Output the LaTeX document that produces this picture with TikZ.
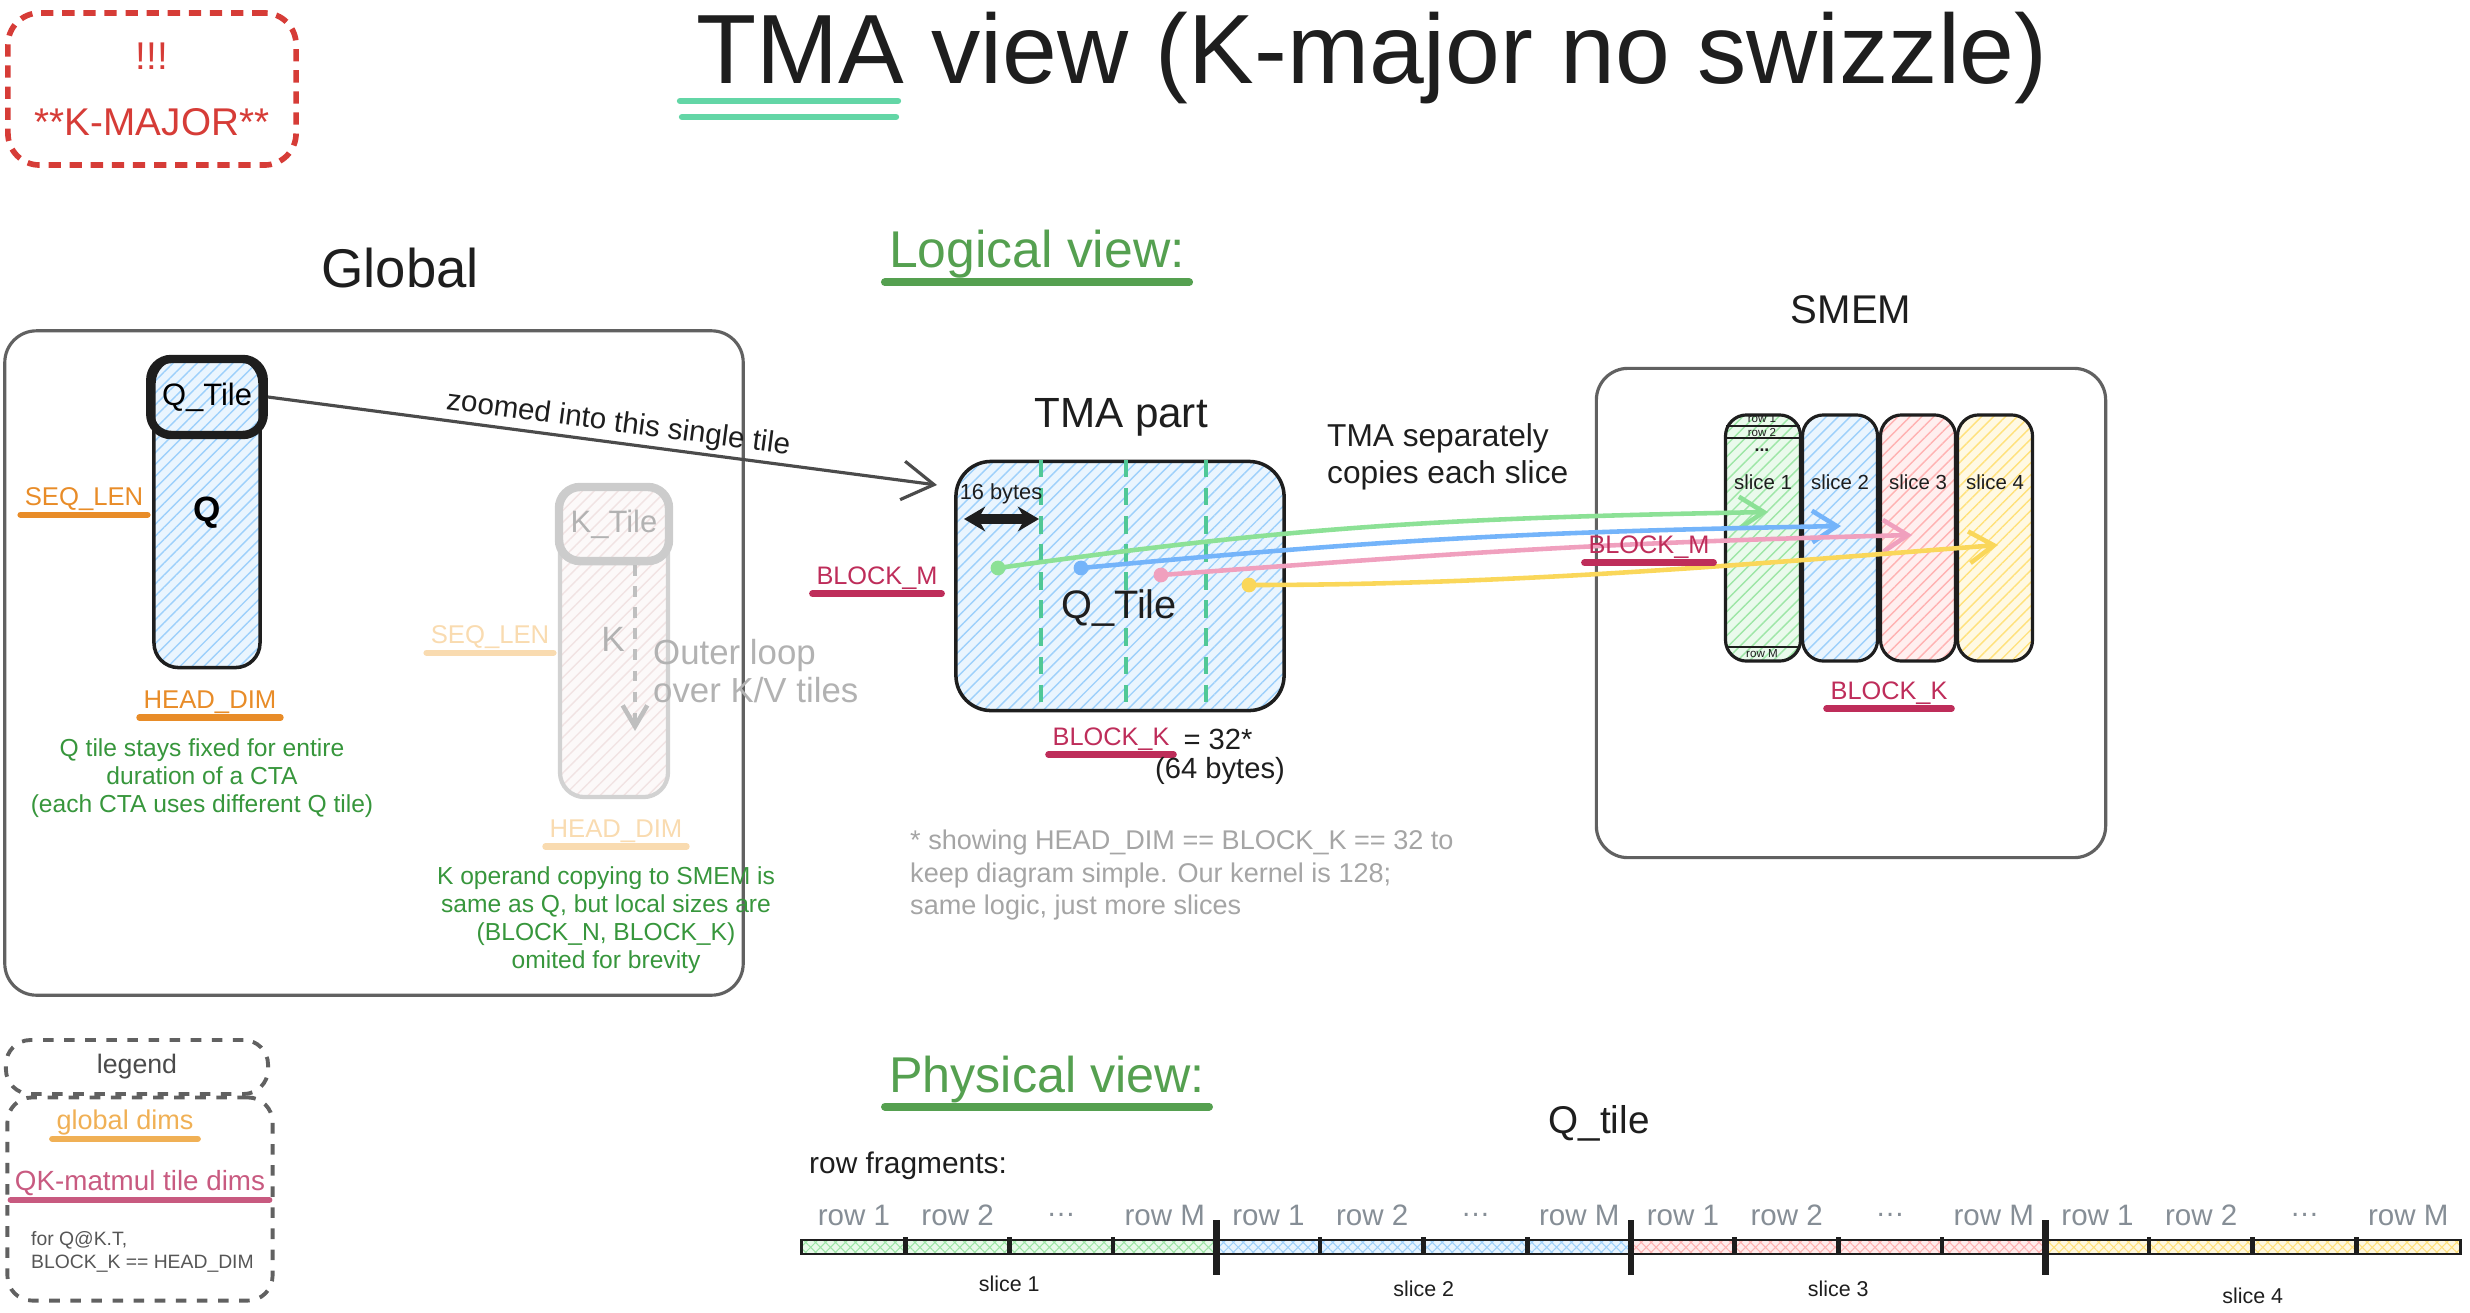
\documentclass[tikz,border=0pt]{standalone}
\usepackage{fontspec}
\setmainfont{Liberation Sans}
\usetikzlibrary{arrows.meta,patterns.meta,calc}
\newcommand{\fsz}[2]{\fontsize{#1}{#2}\selectfont}

\definecolor{ink}{RGB}{30,30,30}
\definecolor{cTeal}{RGB}{99,214,166}
\definecolor{cRed}{RGB}{214,60,55}
\definecolor{cOrange}{RGB}{232,140,40}
\definecolor{cOrangeFade}{RGB}{249,219,176}
\definecolor{cCrim}{RGB}{190,45,90}
\definecolor{cPinkTxt}{RGB}{200,90,128}
\definecolor{cLegOrange}{RGB}{240,176,85}
\definecolor{cGreenTxt}{RGB}{55,150,60}
\definecolor{cHead}{RGB}{85,160,80}
\definecolor{cFoot}{RGB}{165,165,165}
\definecolor{cRow}{RGB}{134,142,150}
\definecolor{cDash}{RGB}{80,200,150}
\definecolor{hBlue}{RGB}{140,200,250}
\definecolor{hGreen}{RGB}{140,225,150}
\definecolor{hPink}{RGB}{255,165,165}
\definecolor{hYellow}{RGB}{255,220,100}
\definecolor{hFade}{RGB}{238,222,222}
\definecolor{aGreen}{RGB}{140,225,150}
\definecolor{aBlue}{RGB}{116,180,250}
\definecolor{aPink}{RGB}{240,160,190}
\definecolor{aYellow}{RGB}{250,215,90}

\tikzset{
  >=Stealth,
  txt/.style={inner sep=1pt, text=ink},
  globdim/.style={txt, text=cOrange, font=\fsz{7.3}{8}},
  tiledim/.style={txt, text=cCrim, font=\fsz{7.2}{8}},
  note/.style={txt, text=cGreenTxt, font=\fsz{7}{7.9}, align=center},
  uline/.style={line width=1.8pt, line cap=round},
  panel/.style={draw=ink!70, line width=0.9pt, rounded corners=9pt},
  hatch/.style={preaction={fill=#1!18}, pattern={Lines[angle=45,distance=2.4pt,line width=0.4pt]}, pattern color=#1!85},
  xhatch/.style={preaction={fill=#1!20}, pattern={Hatch[angle=45,distance=2pt,line width=0.3pt]}, pattern color=#1!85},
  legendbox/.style={draw=ink!70, dashed, line width=1.1pt, rounded corners=7pt, text=ink!80},
  copyarr/.style={#1, line width=1.3pt, -{Straight Barb[length=7pt,width=9pt]}}
}

\begin{document}
\begin{tikzpicture}[x=0.01cm,y=-0.01cm]
  \useasboundingbox (0,0) rectangle (2470,1312);

  % Title
  \node[txt, font=\fsz{28}{30}] at (1372,58) (title) {TMA view (K-major no swizzle)};
  \draw[uline, cTeal] (680,101) -- (898,101);
  \draw[uline, cTeal] (682,117) -- (896,117);

  \node[draw=cRed, line width=1.6pt, dash pattern=on 3.5pt off 2.5pt, rounded corners=9pt,
        minimum width=2.88cm, minimum height=1.52cm, text=cRed, align=center,
        font=\fsz{11}{18.8}] at (152,89) (kmajor) {!!!\\**K-MAJOR**};

  % Global
  \node[txt, font=\fsz{15.5}{17}] at (400,268) (globlbl) {Global};
  \node[panel, minimum width=7.38cm, minimum height=6.64cm] at (374,663) (globbox) {};

  \node[draw=ink, line width=1pt, rounded corners=7pt, hatch=hBlue, minimum width=1.06cm,
        minimum height=3.09cm, font=\fsz{10}{11}\bfseries] at (207,513) (qcol) {Q};
  \node[draw=ink, line width=2.4pt, rounded corners=6pt, minimum width=1.06cm,
        minimum height=0.76cm, font=\fsz{8.8}{10}] at (207,397) (qtile) {Q\_Tile};
  \node[globdim] at (84,499) (qseq) {SEQ\_LEN};
  \draw[uline, cOrange] (qseq.south west) -- (qseq.south east);
  \node[globdim] at (210,702) (qhead) {HEAD\_DIM};
  \draw[uline, cOrange] (qhead.south west) -- (qhead.south east);
  \node[note] at (202,778) (qnote) {Q tile stays fixed for entire\\duration of a CTA\\(each CTA uses different Q tile)};

  \node[draw=gray!35, line width=1.2pt, rounded corners=7pt, hatch=hFade, minimum width=1.08cm,
        minimum height=3.1cm] at (614,642) (kcol) {};
  \node[draw=gray!40, line width=2.4pt, rounded corners=6pt, minimum width=1.08cm,
        minimum height=0.74cm, text=gray!60, font=\fsz{8.8}{10}] at (614,524) (ktile) {K\_Tile};
  \node[txt, text=gray!60, font=\fsz{10}{11}] at (613,639) (klbl) {K};
  \coordinate (kfrom) at (635,565);
  \coordinate (kto) at (635,731);
  \draw[gray!50, line width=1.3pt, dashed, -{Straight Barb[length=6pt,width=7pt]}] (kfrom) -- (kto);
  \node[txt, text=gray!60, font=\fsz{9.9}{10.8}, align=left, anchor=west] at (649,671) (outer) {Outer loop\\over K/V tiles};
  \node[globdim, text=cOrangeFade] at (490,637) (kseq) {SEQ\_LEN};
  \draw[uline, cOrangeFade] (kseq.south west) -- (kseq.south east);
  \node[globdim, text=cOrangeFade] at (616,831) (khead) {HEAD\_DIM};
  \draw[uline, cOrangeFade] (khead.south west) -- (khead.south east);
  \node[note] at (606,920) (knote) {K operand copying to SMEM is\\same as Q, but local sizes are\\(BLOCK\_N, BLOCK\_K)\\omited for brevity};

  % Zoom arrow
  \coordinate (zoomend) at (937,485);
  \draw[ink!80, line width=0.9pt, -{Straight Barb[length=9pt,width=11pt]}] (qtile.east)
    -- node[txt, pos=0.52, sloped, above, font=\fsz{8.4}{9}] (zoomlbl) {zoomed into this single tile} (zoomend);

  % Logical view
  \node[txt, text=cHead, font=\fsz{14.7}{16}] at (1037,254) (logview) {Logical view:};
  \draw[uline, cHead, line width=2.2pt] (logview.south west) -- (logview.south east);

  \node[txt, font=\fsz{12}{13}] at (1121,417) (tmalbl) {TMA part};
  \node[draw=ink, line width=1pt, rounded corners=10pt, hatch=hBlue, minimum width=3.28cm,
        minimum height=2.49cm] at (1120,586) (tma) {};
  \foreach \dx in {-79,6,86}
    \draw[cDash, line width=1pt, dash pattern=on 5pt off 3pt] ($(tma.north)+(\dx,0)$) -- ($(tma.south)+(\dx,0)$);
  \node[txt, font=\fsz{11.3}{12}] at (1119,608) (tmaq) {Q\_Tile};
  \node[txt, font=\fsz{6.2}{7}] at (1001,494) (bytes16) {16 bytes};
  \coordinate (wl) at (964,519);
  \coordinate (wr) at (1039,519);
  \draw[ink, line width=2.6pt, {Stealth[length=6pt,width=7pt]}-{Stealth[length=6pt,width=7pt]}] (wl) -- (wr);
  \node[tiledim] at (877,578) (tmabm) {BLOCK\_M};
  \draw[uline, cCrim] (tmabm.south west) -- (tmabm.south east);
  \node[tiledim] at (1111,739) (tmabk) {BLOCK\_K};
  \draw[uline, cCrim] (tmabk.south west) -- (tmabk.south east);
  \node[txt, font=\fsz{8.3}{9}] at (1218,739) (eq32) {= 32*};
  \node[txt, font=\fsz{8.3}{9}] at (1220,771) (bytes64) {(64 bytes)};
  \node[txt, text=cFoot, font=\fsz{7.7}{9.2}, align=left, anchor=west] at (906,875) (foot)
    {* showing HEAD\_DIM == BLOCK\_K == 32 to\\keep diagram simple. Our kernel is 128;\\same logic, just more slices};
  \node[txt, font=\fsz{9}{10.5}, align=left, anchor=west] at (1323,457) (tmasep) {TMA separately\\copies each slice};

  % SMEM
  \node[txt, font=\fsz{11.4}{12}] at (1851,310) (smemlbl) {SMEM};
  \node[panel, minimum width=5.09cm, minimum height=4.89cm] at (1851,613) (smem) {};
  \foreach \i/\px/\c in {1/1763/hGreen,2/1840/hBlue,3/1918/hPink,4/1995/hYellow}{
    \node[draw=ink, line width=0.9pt, rounded corners=6pt, hatch=\c, minimum width=0.75cm,
          minimum height=2.46cm] at (\px,538) (s\i) {};
    \node[txt, font=\fsz{5.8}{6}] at (\px,482) (sl\i) {slice \i};
  }
  \draw[ink, line width=0.8pt] (1726,426) -- (1800,426) (1726,438) -- (1800,438) (1726,647) -- (1800,647);
  \node[txt, inner sep=0pt, font=\fsz{3.3}{4}] at (1762,419) (r1) {row 1};
  \node[txt, inner sep=0pt, font=\fsz{3.3}{4}] at (1762,432) (r2) {row 2};
  \node[txt, inner sep=0pt, font=\fsz{5}{5}\bfseries] at (1762,450) (rdots) {...};
  \node[txt, inner sep=0pt, font=\fsz{3.3}{4}] at (1762,654) (rM) {row M};

  % copies
  \foreach \n/\px/\py/\c in {g/998/568/aGreen, b/1081/568/aBlue, p/1161/575/aPink, y/1249/585/aYellow}{
    \coordinate (d\n) at (\px,\py);
    \fill[\c] (d\n) circle (2.1pt);
  }
  \coordinate (tg) at (1768,512);
  \coordinate (tb) at (1841,526);
  \coordinate (tp) at (1912,535);
  \coordinate (ty) at (1998,545);
  \draw[copyarr=aGreen] (dg) .. controls +(300,-42) and +(-320,6) .. (tg);
  \draw[copyarr=aBlue] (db) .. controls +(300,-28) and +(-320,6) .. (tb);
  \draw[copyarr=aPink] (dp) .. controls +(300,-22) and +(-320,8) .. (tp);
  \draw[copyarr=aYellow] (dy) .. controls +(260,0) and +(-260,20) .. (ty);
  \node[tiledim] at (1649,547) (smbm) {BLOCK\_M};
  \draw[uline, cCrim] (smbm.south west) -- (smbm.south east);
  \node[tiledim] at (1889,693) (smbk) {BLOCK\_K};
  \draw[uline, cCrim] (smbk.south west) -- (smbk.south east);

  % Legend
  \node[legendbox, minimum width=2.62cm, minimum height=0.54cm, font=\fsz{7.6}{8}] at (137,1067) (legend) {legend};
  \node[legendbox, minimum width=2.65cm, minimum height=2.03cm] at (140,1199) (legbody) {};
  \node[txt, text=cLegOrange, font=\fsz{7.7}{8}] at (125,1122) (leggd) {global dims};
  \draw[uline, cLegOrange] (leggd.south west) -- (leggd.south east);
  \node[txt, text=cPinkTxt, font=\fsz{7.9}{8}] at (140,1183) (legtd) {QK-matmul tile dims};
  \draw[uline, cPinkTxt] (legtd.south west) -- (legtd.south east);
  \node[txt, text=ink!75, font=\fsz{5.5}{6.5}, align=left, anchor=west] at (27,1252) (legnote) {for Q@K.T,\\BLOCK\_K == HEAD\_DIM};

  % Physical view
  \node[txt, text=cHead, font=\fsz{14.3}{16}] at (1047,1079) (physview) {Physical view:};
  \draw[uline, cHead, line width=2.2pt] (physview.south west) -- (physview.south east);
  \node[txt, font=\fsz{11}{12}] at (1599,1123) (qtilephys) {Q\_tile};
  \node[txt, font=\fsz{8.5}{9}, anchor=west] at (805,1166) (rowfrag) {row fragments:};
  \foreach \i/\c in {0/hGreen,1/hBlue,2/hPink,3/hYellow}{
    \node[draw=ink, line width=0.8pt, inner sep=0pt, minimum width=4.145cm, minimum height=0.14cm,
          xhatch=\c] at ({1009.25+414.5*\i},1247) (seg\i) {};
    \foreach \j/\t in {0/row 1,1/row 2,2/\dots,3/row M}
      \node[txt, text=cRow, font=\fsz{8.4}{9}] at ({854+414.5*\i+103.6*\j},1215) (row\i-\j) {\t};
    \foreach \j in {1,2,3}
      \draw[ink, line width=1.3pt] ({802+414.5*\i+103.6*\j},1237) -- ++(0,18);
  }
  \foreach \i in {1,2,3}
    \draw[ink, line width=1.8pt] ({802+414.5*\i},1220) -- ++(0,55);
  \foreach \i/\py in {1/1284,2/1289,3/1289,4/1296}
    \node[txt, font=\fsz{6.1}{7}] at ({802+414.5*(\i-0.5)},\py) (phs\i) {slice \i};
\end{tikzpicture}
\end{document}
